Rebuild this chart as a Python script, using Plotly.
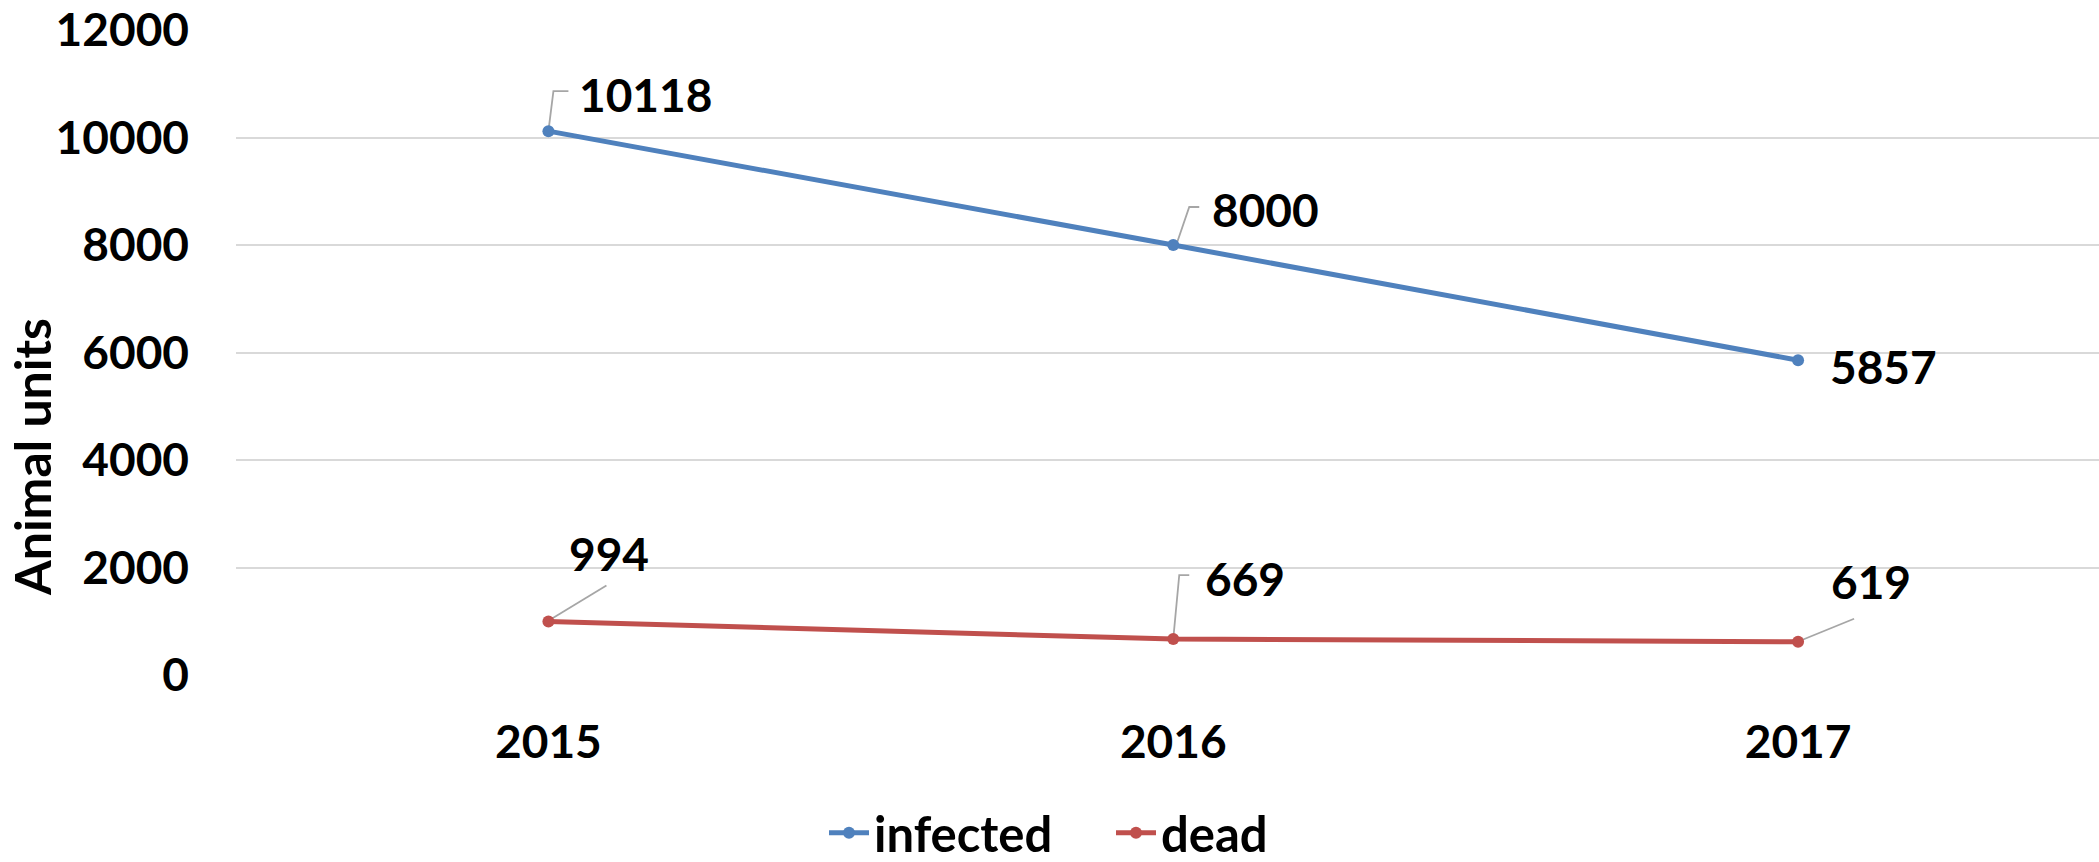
import plotly.graph_objects as go

years = ["2015", "2016", "2017"]
infected = [10118, 8000, 5857]
dead = [994, 669, 619]
y_ticks = [0, 2000, 4000, 6000, 8000, 10000, 12000]

BLUE = "#4F81BD"
RED = "#C0504D"
FONT = "Lato"

fig = go.Figure()
fig.add_trace(go.Scatter(x=years, y=infected, name="infected", mode="lines+markers",
                         line=dict(color=BLUE, width=5), marker=dict(size=12, color=BLUE)))
fig.add_trace(go.Scatter(x=years, y=dead, name="dead", mode="lines+markers",
                         line=dict(color=RED, width=5), marker=dict(size=12, color=RED)))

lab_font = dict(family=FONT, size=46, color="black", weight=700)
# label offsets (pixels, right / up) relative to the data points, and leader-line paths
inf_off = [(97, 37), (92, 36), (85, -6)]
inf_lead = ["M0,0 L5,40 L20,40", "M3,0 L16,38 L26,38", None]
dead_off = [(61, 68), (72, 61), (73, 60)]
dead_lead = ["M2,2 L58,36", "M0,0 L6,64 L16,64", "M2,1 L56,23"]

for series, offs, leads in ((infected, inf_off, inf_lead), (dead, dead_off, dead_lead)):
    for i, (yv, (dx, dy), lead) in enumerate(zip(series, offs, leads)):
        if lead:
            fig.add_shape(type="path", xref="x", yref="y", xsizemode="pixel", ysizemode="pixel",
                          xanchor=i, yanchor=yv, path=lead,
                          line=dict(color="#A6A6A6", width=1.8), layer="below")
        fig.add_annotation(x=i, y=yv, xref="x", yref="y", text=str(yv), showarrow=False,
                           xshift=dx, yshift=dy, font=lab_font)

fig.add_annotation(text="Animal units", xref="paper", yref="paper",
                   x=-(236 - 32) / 1863, y=(675 - 457) / 645, xanchor="center", yanchor="middle",
                   textangle=-90, showarrow=False,
                   font=dict(family=FONT, size=50, color="black", weight=700))

fig.update_layout(
    width=2099, height=862,
    margin=dict(l=236, r=0, t=30, b=187, autoexpand=False),
    paper_bgcolor="white", plot_bgcolor="white",
    showlegend=True,
    legend=dict(orientation="h", xref="container", yref="container", x=824 / 2099, y=1 - 833 / 862,
                xanchor="left", yanchor="middle",
                font=dict(family=FONT, size=49, color="black", weight=700),
                itemwidth=40, entrywidth=232, tracegroupgap=0),
    xaxis=dict(type="category", range=[-0.5, 2.4816], showgrid=False, zeroline=False,
               showline=False, ticks="", ticklabelstandoff=36, automargin=False,
               tickfont=dict(family=FONT, size=46, color="black", weight=700)),
    yaxis=dict(range=[0, 12000], tickvals=y_ticks, tickformat="d", showgrid=True,
               gridcolor="#D9D9D9", gridwidth=2, zeroline=False, showline=False, ticks="",
               ticklabelstandoff=46, automargin=False,
               tickfont=dict(family=FONT, size=46, color="black", weight=700)),
)

fig.write_html("out.html", config={"displayModeBar": False},
               post_script="document.body.style.margin='0';")
